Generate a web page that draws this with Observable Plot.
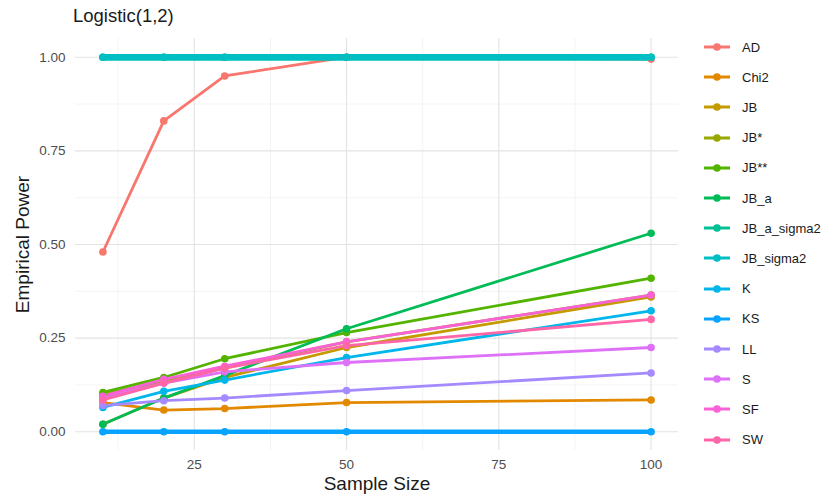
<!DOCTYPE html>
<html>
<head>
<meta charset="utf-8">
<script src="https://cdn.jsdelivr.net/npm/d3@7"></script>
<script src="https://cdn.jsdelivr.net/npm/@observablehq/plot@0.6"></script>
<style>
  html, body { margin: 0; padding: 0; background: #fff; }
  #wrap { position: relative; width: 837px; height: 501px; font-family: "Liberation Sans", Arial, sans-serif; }
  #title { position: absolute; left: 73px; top: 5px; font-size: 18.5px; color: #1a1a1a; }
  #legend { position: absolute; left: 700px; top: 0; }
  .item { position: absolute; left: 0; height: 20px; display: flex; align-items: center; white-space: nowrap; }
  .item span { font-size: 13px; color: #1a1a1a; margin-left: 10px; }
</style>
</head>
<body>
<div id="wrap">
  <div id="chart"></div>
  <div id="title">Logistic(1,2)</div>
  <div id="legend"></div>
</div>
<script>
const sampleSizes = [10, 20, 30, 50, 100];
const tests = ["AD", "Chi2", "JB", "JB*", "JB**", "JB_a", "JB_a_sigma2", "JB_sigma2", "K", "KS", "LL", "S", "SF", "SW"];

const AD          = [0.48, 0.83, 0.95, 1.00, 0.995];
const Chi2        = [0.078, 0.058, 0.062, 0.078, 0.085];
const JB          = [0.02, 0.09, 0.145, 0.225, 0.36];
const JBstar      = [0.10, 0.135, 0.17, 0.24, 0.365];
const JBstar2     = [0.105, 0.145, 0.195, 0.265, 0.41];
const JB_a        = [0.02, 0.09, 0.15, 0.275, 0.53];
const JB_a_sigma2 = [1.00, 1.00, 1.00, 1.00, 1.00];
const JB_sigma2   = [1.00, 1.00, 1.00, 1.00, 1.00];
const K           = [0.065, 0.108, 0.138, 0.198, 0.323];
const KS          = [0.00, 0.00, 0.00, 0.00, 0.00];
const LL          = [0.07, 0.083, 0.09, 0.11, 0.157];
const S           = [0.09, 0.13, 0.16, 0.185, 0.225];
const SF          = [0.095, 0.14, 0.175, 0.24, 0.365];
const SW          = [0.085, 0.13, 0.17, 0.23, 0.30];

const seriesValues = [AD, Chi2, JB, JBstar, JBstar2, JB_a, JB_a_sigma2, JB_sigma2, K, KS, LL, S, SF, SW];

const xTicks = [25, 50, 75, 100];
const yTicks = [0, 0.25, 0.5, 0.75, 1];
const yTickLabels = ["0.00", "0.25", "0.50", "0.75", "1.00"];

const colors = ["#F8766D", "#E38900", "#C49A00", "#99A800", "#53B400", "#00BC56", "#00C094",
                "#00BFC4", "#00B6EB", "#06A4FF", "#A58AFF", "#DF70F8", "#FB61D7", "#FF66A8"];

const data = [];
tests.forEach((t, i) => sampleSizes.forEach((n, j) => data.push({test: t, n, power: seriesValues[i][j]})));

const widthOf = t => (t === "JB_a_sigma2" || t === "JB_sigma2") ? 6.5 : (t === "KS" ? 4.5 : 2.8);

const xMinor = [12.5, 37.5, 62.5, 87.5];
const yMinor = [0.125, 0.375, 0.625, 0.875];

const plot = Plot.plot({
  width: 690,
  height: 501,
  marginLeft: 75,
  marginRight: 12,
  marginTop: 38,
  marginBottom: 51,
  style: {fontFamily: "Liberation Sans, Arial, sans-serif", background: "transparent"},
  x: {domain: [5.5, 104.5], label: null},
  y: {domain: [-0.05, 1.05], label: null},
  color: {domain: tests, range: colors},
  marks: [
    Plot.ruleX(xMinor, {stroke: "#efefef", strokeWidth: 0.7}),
    Plot.ruleY(yMinor, {stroke: "#efefef", strokeWidth: 0.7}),
    Plot.ruleX(xTicks, {stroke: "#e3e3e3", strokeWidth: 1.1}),
    Plot.ruleY(yTicks, {stroke: "#e3e3e3", strokeWidth: 1.1}),
    Plot.axisX({ticks: xTicks, tickSize: 0, tickPadding: 9, fontSize: 13.5, fill: "#4d4d4d", label: null}),
    Plot.axisY({ticks: yTicks, tickSize: 0, tickPadding: 10, fontSize: 13.5, fill: "#4d4d4d", label: null,
                tickFormat: d => yTickLabels[yTicks.indexOf(d)]}),
    Plot.line(data, {x: "n", y: "power", z: "test", stroke: "test", strokeWidth: d => widthOf(d.test), strokeLinejoin: "round"}),
    Plot.dot(data, {x: "n", y: "power", fill: "test", r: 3.8}),
    Plot.text(["Sample Size"], {frameAnchor: "bottom", textAnchor: "middle", dy: 39, fontSize: 19, fill: "#1a1a1a"}),
    Plot.text(["Empirical Power"], {frameAnchor: "left", textAnchor: "middle", dx: -53, rotate: -90, fontSize: 19, fill: "#1a1a1a"})
  ]
});
document.getElementById("chart").appendChild(plot);

const legend = document.getElementById("legend");
tests.forEach((t, i) => {
  const div = document.createElement("div");
  div.className = "item";
  div.style.top = (37 + i * 30.2) + "px";
  div.innerHTML = `<svg width="32" height="20"><line x1="4" x2="30" y1="10" y2="10" stroke="${colors[i]}" stroke-width="3"/><circle cx="17" cy="10" r="3.8" fill="${colors[i]}"/></svg><span>${t}</span>`;
  legend.appendChild(div);
});
</script>
</body>
</html>
